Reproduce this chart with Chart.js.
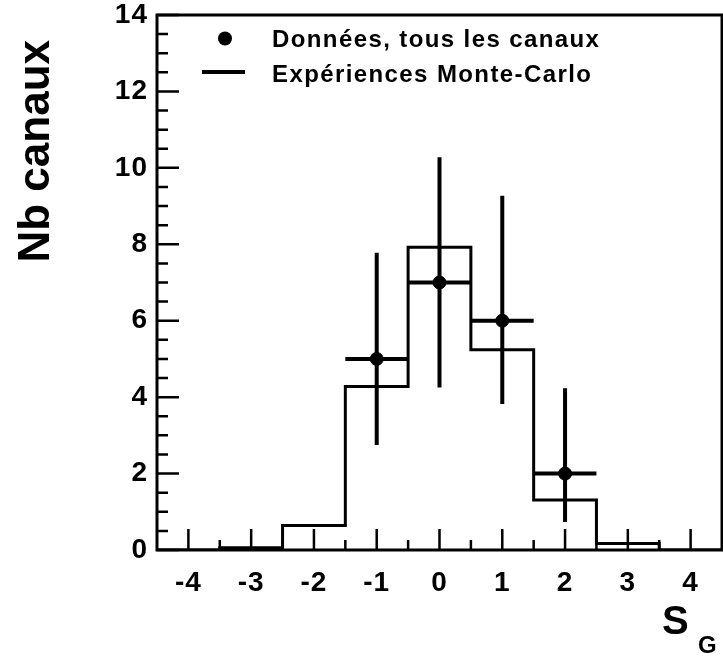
<!DOCTYPE html>
<html>
<head>
<meta charset="utf-8">
<script src="https://cdn.jsdelivr.net/npm/chart.js@4.4.1/dist/chart.umd.min.js"></script>
<style>
  html, body { margin: 0; padding: 0; background: #fff; }
  #wrap { width: 723px; height: 660px; }
</style>
</head>
<body>
<div id="wrap"><canvas id="sgChart" width="723" height="660"></canvas></div>
<script>
// Monte-Carlo histogram: bin edges and contents
const binEdges = [-4.5, -3.5, -2.5, -1.5, -0.5, 0.5, 1.5, 2.5, 3.5, 4.5];
const mcCounts = [0, 0.06, 0.64, 4.28, 7.92, 5.24, 1.31, 0.17, 0];

// data, all channels (with asymmetric error interval)
const dataX = [-1, 0, 1, 2];
const dataY = [5, 7, 6, 2];
const dataLow = [2.75, 4.25, 3.82, 0.73];
const dataHigh = [7.78, 10.28, 9.27, 4.23];
const xErr = 0.5;

// axis ticks
const xTicks = [-4, -3, -2, -1, 0, 1, 2, 3, 4];
const xMinor = [-3.5, -2.5, -1.5, -0.5, 0.5, 1.5, 2.5, 3.5];
const yTicks = [0, 2, 4, 6, 8, 10, 12, 14];
const yMinor = [0.5, 1, 1.5, 2.5, 3, 3.5, 4.5, 5, 5.5, 6.5, 7, 7.5, 8.5, 9, 9.5, 10.5, 11, 11.5, 12.5, 13, 13.5];

const labelData = 'Données, tous les canaux';
const labelMC = 'Expériences Monte-Carlo';
const FONT = '"Liberation Sans", Arial, Helvetica, sans-serif';

// histogram as stepped line (last edge repeats the last bin content)
const histPoints = binEdges.map((e, i) => ({ x: e, y: mcCounts[Math.min(i, mcCounts.length - 1)] }));
const dataPoints = dataX.map((v, i) => ({ x: v, y: dataY[i] }));

// ROOT-like frame, inside ticks, error bars, legend and titles
const rootStyle = {
    id: 'rootStyle',
    beforeDraw(chart) {
        // slightly wider spacing like the original tick labels
        chart.ctx.letterSpacing = '1px';
    },
    afterDatasetsDraw(chart) {
        const { ctx, chartArea: a, scales: { x, y } } = chart;
        ctx.save();
        ctx.strokeStyle = '#000';
        ctx.fillStyle = '#000';

        // error bars
        ctx.lineWidth = 4;
        ctx.beginPath();
        dataX.forEach((v, i) => {
            const px = x.getPixelForValue(v);
            const py = y.getPixelForValue(dataY[i]);
            ctx.moveTo(px, y.getPixelForValue(dataLow[i]));
            ctx.lineTo(px, y.getPixelForValue(dataHigh[i]));
            ctx.moveTo(x.getPixelForValue(v - xErr), py);
            ctx.lineTo(x.getPixelForValue(v + xErr), py);
        });
        ctx.stroke();

        // ticks inside the frame
        ctx.lineWidth = 2.5;
        ctx.beginPath();
        xTicks.forEach(v => {
            const px = x.getPixelForValue(v);
            ctx.moveTo(px, a.bottom);
            ctx.lineTo(px, a.bottom - 21);
        });
        xMinor.forEach(v => {
            const px = x.getPixelForValue(v);
            ctx.moveTo(px, a.bottom);
            ctx.lineTo(px, a.bottom - 10);
        });
        yTicks.forEach(v => {
            const py = y.getPixelForValue(v);
            ctx.moveTo(a.left, py);
            ctx.lineTo(a.left + 22, py);
        });
        yMinor.forEach(v => {
            const py = y.getPixelForValue(v);
            ctx.moveTo(a.left, py);
            ctx.lineTo(a.left + 11, py);
        });
        ctx.stroke();

        // frame
        ctx.lineWidth = 3;
        ctx.strokeRect(a.left, a.top, a.right - a.left, a.bottom - a.top);

        // legend
        ctx.beginPath();
        ctx.arc(225, 38.5, 7, 0, Math.PI * 2);
        ctx.fill();
        ctx.lineWidth = 4;
        ctx.beginPath();
        ctx.moveTo(202, 72);
        ctx.lineTo(245, 72);
        ctx.stroke();
        ctx.letterSpacing = '1.4px';
        ctx.font = 'bold 24px ' + FONT;
        ctx.textAlign = 'left';
        ctx.textBaseline = 'alphabetic';
        ctx.fillText(labelData, 272, 47);
        ctx.fillText(labelMC, 272, 82);

        // x title S_G
        ctx.letterSpacing = '0px';
        ctx.font = 'bold 40px ' + FONT;
        ctx.fillText('S', 662, 634);
        ctx.font = 'bold 24px ' + FONT;
        ctx.fillText('G', 698, 653);

        // y title
        ctx.translate(49, 40);
        ctx.rotate(-Math.PI / 2);
        ctx.font = 'bold 44px ' + FONT;
        ctx.textAlign = 'right';
        ctx.fillText('Nb canaux', 0, 0);
        ctx.restore();
    }
};

new Chart(document.getElementById('sgChart'), {
    type: 'scatter',
    data: {
        datasets: [
            {
                type: 'line',
                label: labelMC,
                data: histPoints,
                stepped: 'before',
                borderColor: '#000',
                borderWidth: 3,
                pointRadius: 0,
                fill: false
            },
            {
                label: labelData,
                data: dataPoints,
                backgroundColor: '#000',
                borderColor: '#000',
                pointRadius: 6.5,
                pointHoverRadius: 6.5
            }
        ]
    },
    options: {
        responsive: false,
        animation: false,
        events: [],
        layout: { autoPadding: false, padding: { top: 15, right: 1, left: 0, bottom: 0 } },
        plugins: {
            legend: { display: false },
            tooltip: { enabled: false }
        },
        scales: {
            x: {
                type: 'linear',
                min: -4.5,
                max: 4.5,
                afterBuildTicks: s => { s.ticks = xTicks.map(v => ({ value: v })); },
                afterFit: s => { s.height = 110; s.paddingLeft = 0; s.paddingRight = 0; },
                grid: { display: false, drawTicks: false },
                border: { display: false },
                ticks: {
                    color: '#000',
                    padding: 16,
                    maxRotation: 0,
                    font: { family: FONT, size: 28, weight: 'bold' }
                }
            },
            y: {
                type: 'linear',
                min: 0,
                max: 14,
                afterBuildTicks: s => { s.ticks = yTicks.map(v => ({ value: v })); },
                afterFit: s => { s.width = 157; s.paddingTop = 0; s.paddingBottom = 0; },
                grid: { display: false, drawTicks: false },
                border: { display: false },
                ticks: {
                    color: '#000',
                    padding: 9,
                    font: { family: FONT, size: 28, weight: 'bold' }
                }
            }
        }
    },
    plugins: [rootStyle]
});
</script>
</body>
</html>
